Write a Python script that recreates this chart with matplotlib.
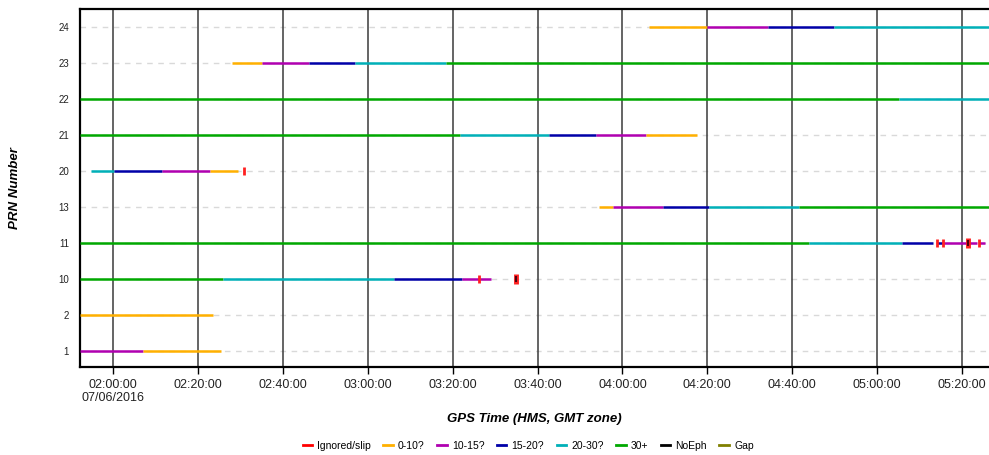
import pandas as pd
import matplotlib
matplotlib.use("Agg")
import matplotlib.pyplot as plt
from matplotlib.lines import Line2D

plt.rcParams['font.family'] = ['Liberation Sans', 'DejaVu Sans']

DAY = "2016-07-06 "

# PRN rows, bottom to top
prn_labels = ['1', '2', '10', '11', '13', '20', '21', '22', '23', '24']

# class names and their colours
classes = ['Ignored/slip', '0-10?', '10-15?', '15-20?', '20-30?', '30+', 'NoEph', 'Gap']
class_colors = ['#ff0000', '#ffb000', '#b000b0', '#0000a8', '#00b0b8', '#00a800', '#000000', '#808000']

# tracked segments per PRN: (start, end, class)
prn1 = [("01:52:10", "02:07:00", "10-15?"), ("02:07:00", "02:25:26", "0-10?")]
prn2 = [("01:52:10", "02:23:29", "0-10?")]
prn10 = [("01:52:10", "02:25:45", "30+"), ("02:25:45", "03:06:12", "20-30?"),
         ("03:06:12", "03:22:13", "15-20?"), ("03:22:13", "03:28:58", "10-15?")]
prn11 = [("01:52:10", "04:44:02", "30+"), ("04:44:02", "05:05:56", "20-30?"),
         ("05:05:56", "05:13:14", "15-20?"), ("05:14:02", "05:15:27", "15-20?"),
         ("05:15:32", "05:23:28", "10-15?"), ("05:24:00", "05:25:25", "10-15?")]
prn13 = [("03:54:29", "03:57:52", "0-10?"), ("03:57:52", "04:09:38", "10-15?"),
         ("04:09:38", "04:20:28", "15-20?"), ("04:20:28", "04:41:36", "20-30?"),
         ("04:41:36", "05:26:22", "30+")]
prn20 = [("01:54:45", "02:00:04", "20-30?"), ("02:00:04", "02:11:28", "15-20?"),
         ("02:11:28", "02:22:41", "10-15?"), ("02:22:41", "02:29:17", "0-10?")]
prn21 = [("01:52:10", "03:21:44", "30+"), ("03:21:44", "03:42:47", "20-30?"),
         ("03:42:47", "03:53:47", "15-20?"), ("03:53:47", "04:05:29", "10-15?"),
         ("04:05:29", "04:17:30", "0-10?")]
prn22 = [("01:52:10", "05:05:14", "30+"), ("05:05:14", "05:26:22", "20-30?")]
prn23 = [("02:27:58", "02:35:10", "0-10?"), ("02:35:10", "02:46:10", "10-15?"),
         ("02:46:10", "02:56:51", "15-20?"), ("02:56:51", "03:18:27", "20-30?"),
         ("03:18:27", "05:26:22", "30+")]
prn24 = [("04:06:16", "04:20:00", "0-10?"), ("04:20:00", "04:34:22", "10-15?"),
         ("04:34:22", "04:49:55", "15-20?"), ("04:49:55", "05:26:22", "20-30?")]

segments = [prn1, prn2, prn10, prn11, prn13, prn20, prn21, prn22, prn23, prn24]

# cycle slips (red) and slip without ephemeris (dark)
slip_prn = ['20', '10', '11', '11', '11']
slip_time = ["02:30:42", "03:26:13", "05:14:02", "05:15:27", "05:24:00"]
dark_prn = ['10', '11']
dark_time = ["03:34:52", "05:21:20"]

tick_times = ["02:00:00", "02:20:00", "02:40:00", "03:00:00", "03:20:00", "03:40:00",
              "04:00:00", "04:20:00", "04:40:00", "05:00:00", "05:20:00"]
tick_labels = ["02:00:00\n07/06/2016", "02:20:00", "02:40:00", "03:00:00", "03:20:00",
               "03:40:00", "04:00:00", "04:20:00", "04:40:00", "05:00:00", "05:20:00"]
x_range = ["01:52:10", "05:26:22"]


def ts(s):
    return pd.Timestamp(DAY + s)


color_of = dict(zip(classes, class_colors))
row_of = {p: i for i, p in enumerate(prn_labels)}

fig = plt.figure(figsize=(9.89, 4.55), dpi=100)
ax = fig.add_axes([0.0809, 0.194, 0.9191, 0.786])

# light dashed row lines
for i in range(len(prn_labels)):
    ax.axhline(i, color='#d9d9d9', lw=1.0, ls=(0, (4, 4)), zorder=1)

for i, segs in enumerate(segments):
    for start, end, cls in segs:
        ax.plot([ts(start), ts(end)], [i, i], color=color_of[cls], lw=1.8,
                solid_capstyle='butt', zorder=3)

for p, s in zip(slip_prn, slip_time):
    ax.plot([ts(s)], [row_of[p]], marker='|', ms=6, mew=2, color='#ff2020', zorder=4)
for p, s in zip(dark_prn, dark_time):
    ax.plot([ts(s)], [row_of[p]], marker='|', ms=7, mew=3.5, color='#ff2020', zorder=4)
    ax.plot([ts(s)], [row_of[p]], marker='|', ms=5, mew=1.5, color='#500010', zorder=5)

ax.set_xlim(ts(x_range[0]), ts(x_range[1]))
ax.set_ylim(-0.44, 9.5)

ax.set_xticks([ts(s) for s in tick_times])
ax.set_xticklabels(tick_labels, fontsize=9, color='#222222')
ax.set_yticks(range(len(prn_labels)))
ax.set_yticklabels(prn_labels, fontsize=7, color='#222222')
ax.tick_params(axis='x', length=5, width=1, pad=3.5)
ax.tick_params(axis='y', length=0, pad=8)

for t in tick_times:
    ax.axvline(ts(t), color='#3a3a3a', lw=1.1, zorder=2)

for side in ['top', 'left', 'bottom']:
    ax.spines[side].set_linewidth(1.6)
    ax.spines[side].set_color('black')
ax.spines['right'].set_visible(False)

ax.set_xlabel('GPS Time (HMS, GMT zone)', fontsize=9.5, fontweight='bold', fontstyle='italic')
ax.xaxis.set_label_coords(0.5, -0.13)
ax.set_ylabel('PRN Number', fontsize=9.5, fontweight='bold', fontstyle='italic')
ax.yaxis.set_label_coords(-0.065, 0.5)

handles = [Line2D([0], [0], color=c, lw=2) for c in class_colors]
fig.legend(handles, classes, loc='center', bbox_to_anchor=(0.534, 0.02), ncol=8,
           frameon=False, fontsize=7.5, handlelength=0.9, handletextpad=0.5,
           columnspacing=1.2)

fig.savefig('out.png', dpi=100)
